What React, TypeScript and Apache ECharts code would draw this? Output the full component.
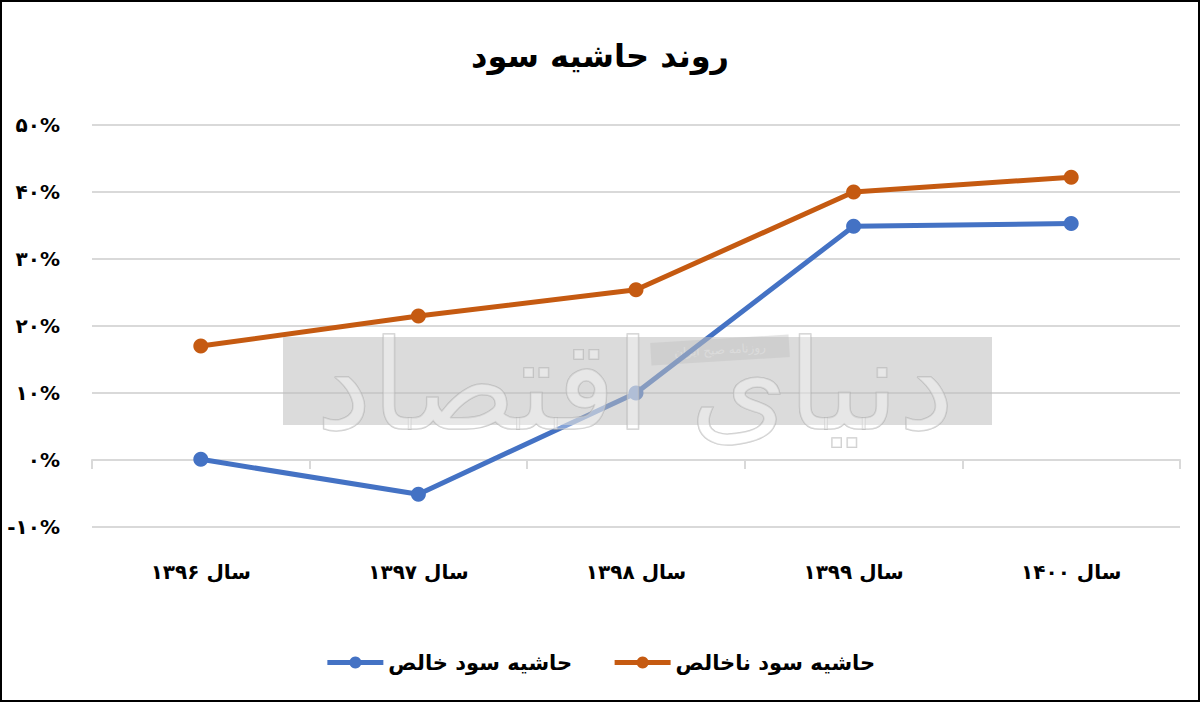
import React, { useEffect, useRef } from "react";
import * as echarts from "echarts";

const categories = ["سال ۱۳۹۶", "سال ۱۳۹۷", "سال ۱۳۹۸", "سال ۱۳۹۹", "سال ۱۴۰۰"];
const netMargin = [0.1, -5.1, 10.0, 34.9, 35.3];
const grossMargin = [17.0, 21.5, 25.4, 40.0, 42.2];
const seriesNames = ["حاشیه سود خالص", "حاشیه سود ناخالص"];
const titleText = "روند حاشیه سود";

const FONT = "DejaVu Sans";
const faDigits = "۰۱۲۳۴۵۶۷۸۹";
const toFa = (s: string) => s.replace(/[0-9]/g, (d) => faDigits[Number(d)]);

export default function App() {
  const ref = useRef<HTMLDivElement>(null);
  useEffect(() => {
    document.body.style.margin = "0";
    const chart = echarts.init(ref.current!, null, { renderer: "svg" });
    chart.setOption({
      animation: false,
      backgroundColor: "#ffffff",
      title: {
        text: titleText,
        left: "center",
        top: 35,
        textStyle: { fontFamily: FONT, fontSize: 32, fontWeight: "bold", color: "#000" },
      },
      legend: {
        top: 647,
        left: "center",
        itemWidth: 56,
        itemHeight: 15,
        itemGap: 40,
        lineStyle: { width: 5 },
        textStyle: { fontFamily: FONT, fontSize: 21, fontWeight: "bold", color: "#000" },
        data: seriesNames,
      },
      grid: { left: 92, right: 20, top: 125, bottom: 175, containLabel: false },
      xAxis: {
        type: "category",
        data: categories,
        boundaryGap: true,
        axisLine: { onZero: true, lineStyle: { color: "#d9d9d9", width: 2 } },
        axisTick: { show: true, length: 9, lineStyle: { color: "#d9d9d9", width: 2 } },
        axisLabel: {
          margin: 35,
          fontFamily: FONT,
          fontSize: 20,
          fontWeight: "bold",
          color: "#000",
        },
      },
      yAxis: {
        type: "value",
        min: -10,
        max: 50,
        interval: 10,
        axisLine: { show: false },
        axisTick: { show: false },
        splitLine: { lineStyle: { color: "#d9d9d9", width: 2 } },
        axisLabel: {
          margin: 32,
          fontFamily: FONT,
          fontSize: 20,
          fontWeight: "bold",
          color: "#000",
          formatter: (v: number) => toFa(String(v)) + "%",
        },
      },
      series: [
        {
          name: seriesNames[0],
          type: "line",
          data: netMargin,
          symbol: "circle",
          symbolSize: 15,
          lineStyle: { color: "#4472C4", width: 5 },
          itemStyle: { color: "#4472C4" },
          z: 3,
        },
        {
          name: seriesNames[1],
          type: "line",
          data: grossMargin,
          symbol: "circle",
          symbolSize: 15,
          lineStyle: { color: "#C55A11", width: 5 },
          itemStyle: { color: "#C55A11" },
          z: 3,
        },
      ],
      graphic: [
        {
          type: "rect",
          shape: { x: 283, y: 337, width: 709, height: 88 },
          style: { fill: "rgba(190,190,190,0.55)" },
          z: 10,
          silent: true,
        },
        {
          type: "text",
          x: 635,
          y: 385,
          style: {
            text: "دنیای اقتصاد",
            fontFamily: FONT,
            fontSize: 125,
            fill: "rgba(255,255,255,0.35)",
            stroke: "rgba(170,170,170,0.6)",
            lineWidth: 1.5,
            align: "center",
            verticalAlign: "middle",
          },
          z: 11,
          silent: true,
        },
        {
          type: "group",
          x: 720,
          y: 350,
          rotation: 0.06,
          z: 12,
          children: [
            {
              type: "rect",
              shape: { x: -70, y: -12, width: 140, height: 24 },
              style: { fill: "rgba(210,210,210,0.6)", stroke: "rgba(255,255,255,0.9)", lineWidth: 1.5 },
            },
            {
              type: "text",
              style: {
                text: "روزنامه صبح ایران",
                fontFamily: FONT,
                fontSize: 12,
                fill: "#ffffff",
                align: "center",
                verticalAlign: "middle",
              },
            },
          ],
        },
        {
          type: "rect",
          shape: { x: 1, y: 1, width: 1198, height: 700 },
          style: { fill: "none", stroke: "#000", lineWidth: 2 },
          z: 20,
          silent: true,
        },
      ],
    });
    return () => chart.dispose();
  }, []);
  return <div ref={ref} style={{ width: 1200, height: 702 }} />;
}
